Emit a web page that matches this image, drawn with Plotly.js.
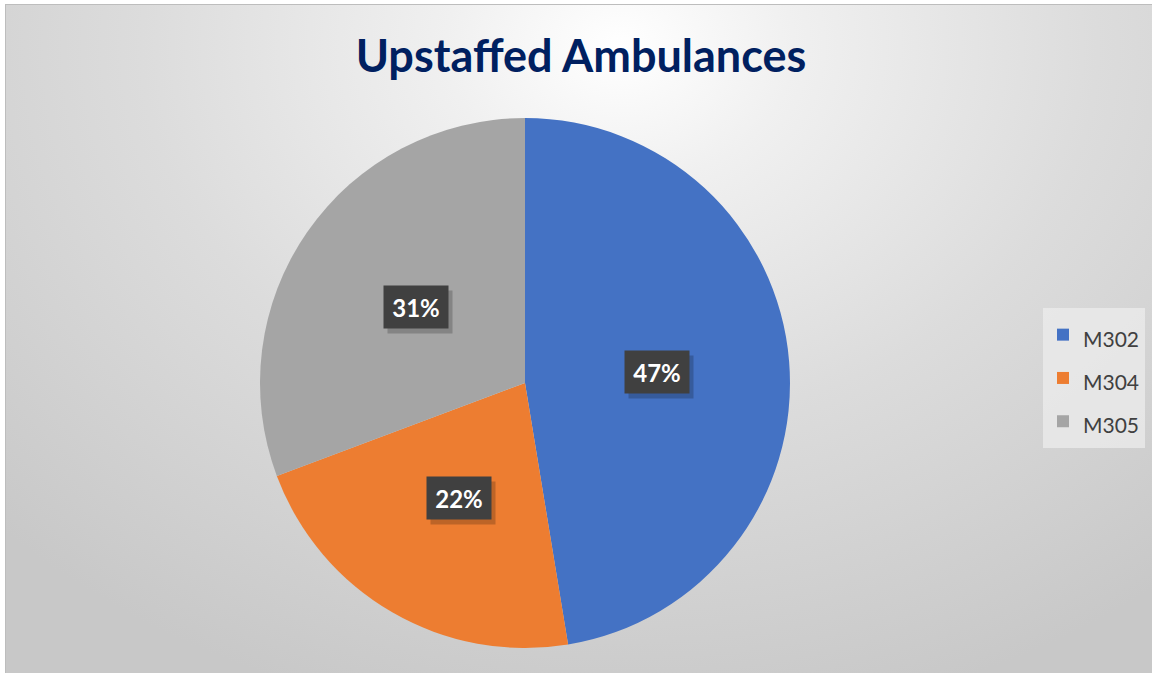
<!DOCTYPE html>
<html>
<head>
<meta charset="utf-8">
<script src="https://cdn.plot.ly/plotly-3.0.1.min.js"></script>
<style>
  html, body { margin:0; padding:0; background:#ffffff; width:1152px; height:673px; overflow:hidden; }
  #frame { position:absolute; left:5px; top:4px; width:1160px; height:690px;
    border:1.5px solid #bdbdbd; box-sizing:border-box;
    background: radial-gradient(ellipse 75% 100% at 53% 6%, #ffffff 0%, #f0f0f0 20%, #dcdcdc 55%, #c8c8c8 100%); }
  #chart { position:absolute; left:0; top:0; width:1152px; height:673px; }
</style>
</head>
<body>
<div id="frame"></div>
<div id="chart"></div>
<script>
// ---- data ----
const categories = ["M302", "M304", "M305"];
const values = [47.4, 21.9, 30.7];
const colors = ["#4472C4", "#ED7D31", "#A5A5A5"];
const chartTitle = "Upstaffed Ambulances";

// ---- layout geometry ----
const W = 1152, H = 673;
const cx = 525, cy = 383, R = 265;
const dom = { x: [(cx - R) / W, (cx + R) / W], y: [(H - cy - R) / H, (H - cy + R) / H] };

const legendLabels = categories.map(c => '<span style="font-size:21px">' + c + '</span>');

const trace = {
  type: "pie",
  labels: legendLabels,
  values: values,
  marker: { colors: colors, line: { width: 0 } },
  sort: false,
  direction: "clockwise",
  rotation: 0,
  textinfo: "none",
  hoverinfo: "label+percent",
  domain: dom
};

// label boxes positioned at half radius on each slice's mid angle
const total = values.reduce((a, b) => a + b, 0);
const annotations = [];
let cum = 0;
values.forEach((v, i) => {
  const mid = (cum + v / 2) / total * 2 * Math.PI;
  cum += v;
  const px = cx + 0.5 * R * Math.sin(mid);
  const py = cy - 0.5 * R * Math.cos(mid);
  const pct = Math.round(v / total * 100) + "%";
  const xp = px / W, yp = 1 - py / H;
  annotations.push({
    xref: "paper", yref: "paper", x: xp, y: yp, xshift: 4, yshift: -5,
    text: "", showarrow: false, width: 62, height: 40,
    bgcolor: "rgba(0,0,0,0.2)", xanchor: "center", yanchor: "middle"
  });
  annotations.push({
    xref: "paper", yref: "paper", x: xp, y: yp,
    text: "<b>" + pct + "</b>", showarrow: false, width: 62, height: 40,
    bgcolor: "#404040", xanchor: "center", yanchor: "middle", valign: "middle",
    font: { family: "Lato, 'Open Sans', sans-serif", size: 24, color: "#ffffff" }
  });
});

const layout = {
  width: W, height: H,
  margin: { l: 0, r: 0, t: 0, b: 0 },
  paper_bgcolor: "rgba(0,0,0,0)",
  plot_bgcolor: "rgba(0,0,0,0)",
  title: {
    text: "<b>" + chartTitle + "</b>",
    x: 581 / W, xanchor: "center", xref: "paper",
    y: 1 - 56 / H, yanchor: "middle", yref: "paper",
    font: { family: "Lato, 'Open Sans', sans-serif", size: 45, color: "#002060" }
  },
  showlegend: true,
  legend: {
    x: 1043 / W, xanchor: "left", y: 1 - 308 / H, yanchor: "top",
    bgcolor: "rgba(236,236,236,0.75)", borderwidth: 0,
    font: { family: "Lato, 'Open Sans', sans-serif", size: 31, color: "#404040" },
    itemwidth: 30
  },
  annotations: annotations
};

Plotly.newPlot("chart", [trace], layout, { displayModeBar: false, staticPlot: true });
</script>
</body>
</html>
